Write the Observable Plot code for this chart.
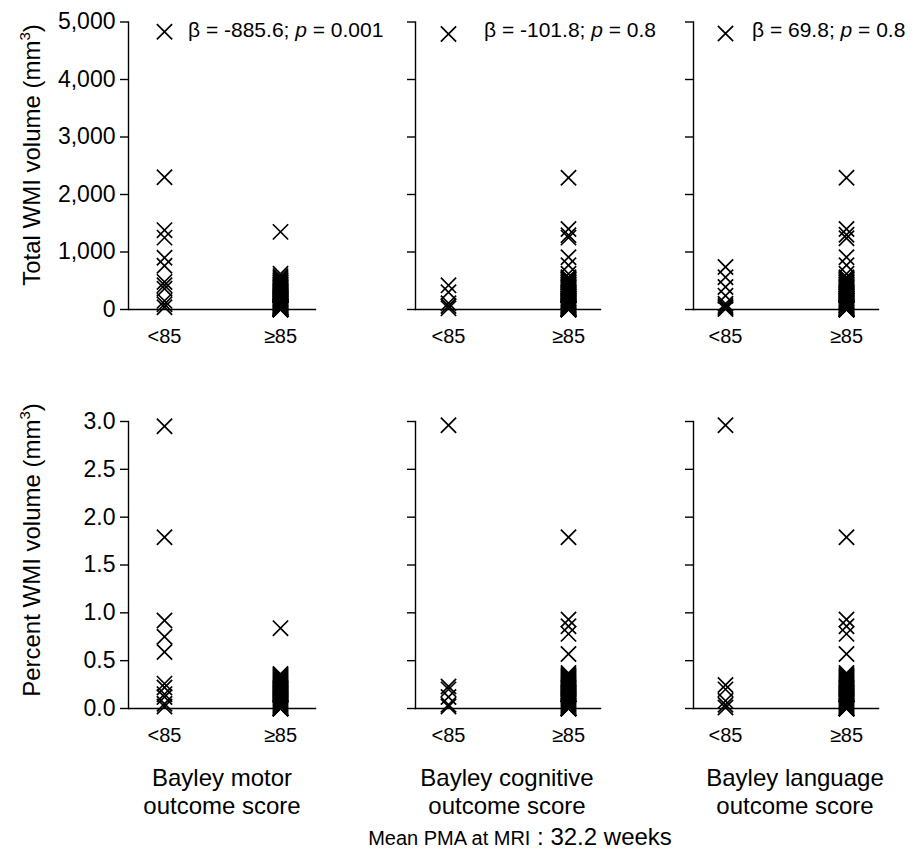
<!DOCTYPE html>
<html><head><meta charset="utf-8">
<script src="https://cdn.jsdelivr.net/npm/d3@7"></script>
<script src="https://cdn.jsdelivr.net/npm/@observablehq/plot@0.6"></script>
<style>
body{margin:0;background:#fff;}
#chart{position:relative;width:913px;height:849px;font-family:"Liberation Sans",Arial,sans-serif;color:#000;}
.panel{position:absolute;}
#overlay{position:absolute;left:0;top:0;pointer-events:none;}
</style></head><body><div id="chart"></div>
<script>
// ---- data ----
const groups = ["<85", "≥85"];
const outcomeLine1 = ["Bayley motor", "Bayley cognitive", "Bayley language"];
const outcomeLine2 = ["outcome score", "outcome score", "outcome score"];
const betas = ["-885.6", "-101.8", "69.8"];
const pvals = ["0.001", "0.8", "0.8"];
const rowTitles = ["Total WMI volume (mm", "Percent WMI volume (mm"];
const captionA = "Mean PMA at MRI";
const captionB = " : 32.2 weeks";
const totalTicks = [0, 1000, 2000, 3000, 4000, 5000];
const pctTicks = [0, 0.5, 1.0, 1.5, 2.0, 2.5, 3.0];

// Total WMI volume (mm3)
const motorTotalLo = [4830, 2300, 1380, 1250, 900, 760, 480, 420, 360, 150, 90, 40];
const motorTotalHi = [1350, 620, 580, 550, 530, 510, 490, 470, 460, 440, 430, 420, 400, 390, 380, 360, 350, 340, 320, 310, 300, 290, 280, 260, 250, 240, 230, 210, 200, 190, 180, 170, 160, 150, 140, 130, 120, 110, 100, 90, 80, 70, 60, 50, 45, 40, 30, 25, 20, 15, 10, 5, 0, 0, 0, 0, 0, 0];
const cogTotalLo = [4790, 420, 300, 110, 60, 20];
const cogTotalHi = [2290, 1400, 1290, 1250, 910, 770, 620, 560, 540, 520, 500, 480, 470, 460, 440, 430, 420, 400, 390, 380, 360, 350, 340, 320, 300, 290, 280, 260, 250, 240, 220, 200, 190, 180, 160, 150, 140, 130, 120, 100, 90, 80, 70, 60, 50, 40, 30, 20, 15, 10, 5, 0, 0, 0, 0, 0, 0];
const langTotalLo = [4800, 740, 560, 390, 240, 100, 60, 30, 10];
const langTotalHi = [2290, 1400, 1300, 1240, 910, 770, 620, 560, 540, 520, 500, 480, 470, 460, 440, 430, 420, 400, 390, 380, 360, 350, 340, 320, 300, 290, 280, 260, 250, 240, 220, 200, 190, 180, 160, 150, 140, 130, 120, 100, 90, 80, 70, 60, 50, 40, 30, 20, 15, 10, 5, 0, 0, 0, 0, 0, 0];

// Percent WMI volume
const motorPctLo = [2.95, 1.79, 0.92, 0.75, 0.59, 0.26, 0.22, 0.15, 0.12, 0.05, 0.02];
const motorPctHi = [0.84, 0.36, 0.35, 0.34, 0.33, 0.32, 0.31, 0.30, 0.29, 0.28, 0.27, 0.26, 0.25, 0.24, 0.23, 0.22, 0.21, 0.20, 0.19, 0.18, 0.17, 0.16, 0.15, 0.14, 0.13, 0.12, 0.11, 0.10, 0.09, 0.08, 0.07, 0.06, 0.05, 0.04, 0.03, 0.02, 0.01, 0, 0, 0, 0, 0, 0];
const cogPctLo = [2.96, 0.23, 0.20, 0.12, 0.04, 0.02];
const cogPctHi = [1.79, 0.93, 0.86, 0.78, 0.57, 0.37, 0.35, 0.34, 0.33, 0.32, 0.31, 0.30, 0.29, 0.28, 0.27, 0.26, 0.25, 0.24, 0.23, 0.22, 0.21, 0.20, 0.18, 0.17, 0.16, 0.15, 0.14, 0.13, 0.12, 0.11, 0.10, 0.09, 0.08, 0.07, 0.06, 0.05, 0.04, 0.03, 0.02, 0.01, 0, 0, 0, 0, 0, 0];
const langPctLo = [2.96, 0.245, 0.20, 0.08, 0.04, 0.01];
const langPctHi = [1.79, 0.93, 0.86, 0.78, 0.57, 0.37, 0.35, 0.34, 0.33, 0.32, 0.31, 0.30, 0.29, 0.28, 0.27, 0.26, 0.25, 0.24, 0.23, 0.22, 0.21, 0.20, 0.18, 0.17, 0.16, 0.15, 0.14, 0.13, 0.12, 0.11, 0.10, 0.09, 0.08, 0.07, 0.06, 0.05, 0.04, 0.03, 0.02, 0.01, 0, 0, 0, 0, 0, 0];

// ---- assemble ----
const toRows = (lo, hi) => [...lo.map(v => ({group: groups[0], value: v})), ...hi.map(v => ({group: groups[1], value: v}))];
const panels = [
  [toRows(motorTotalLo, motorTotalHi), toRows(cogTotalLo, cogTotalHi), toRows(langTotalLo, langTotalHi)],
  [toRows(motorPctLo, motorPctHi), toRows(cogPctLo, cogPctHi), toRows(langPctLo, langPctHi)]
];
const rowTicks = [totalTicks, pctTicks];
const rowFormat = [d3.format(","), d3.format(".1f")];

// ---- layout ----
const FONT = '"Liberation Sans", Arial, sans-serif';
const colLeft = [0, 330, 615], colWidth = [330, 285, 298];
const mLeft = [128, 85, 78], mRight = [15, 15, 35], xPad = [0.3, 0.27, 0.26];
const rowTop = [0, 400], H = 350, mTop = [21.5, 21], mBottom = [41, 42];

const chart = document.getElementById("chart");
for (let r = 0; r < 2; r++) {
  for (let c = 0; c < 3; c++) {
    const ticks = rowTicks[r];
    const plot = Plot.plot({
      width: colWidth[c], height: H,
      marginLeft: mLeft[c], marginRight: mRight[c], marginTop: mTop[r], marginBottom: mBottom[r],
      style: {fontFamily: FONT, fontSize: "20px", color: "#000", background: "transparent", overflow: "visible"},
      x: {type: "point", domain: groups, padding: xPad[c]},
      y: {domain: [ticks[0], ticks[ticks.length - 1]]},
      marks: [
        Plot.axisY({ticks, tickSize: 8, tickPadding: 5, strokeWidth: 1.4, label: null, fontSize: 23,
          tickFormat: c === 0 ? rowFormat[r] : () => ""}),
        Plot.axisX({tickSize: 0, tickPadding: 19, label: null, fontSize: 20}),
        Plot.frame({anchor: "left", strokeWidth: 1.4}),
        Plot.frame({anchor: "bottom", strokeWidth: 1.4}),
        Plot.dot(panels[r][c], {x: "group", y: "value", symbol: "times", r: 7, stroke: "#000", strokeWidth: 1.7})
      ]
    });
    plot.classList.add("panel");
    plot.style.left = colLeft[c] + "px";
    plot.style.top = rowTop[r] + "px";
    chart.appendChild(plot);
  }
}

// ---- overlay text ----
const svg = d3.select(chart).append("svg").attr("id", "overlay")
  .attr("width", 913).attr("height", 849)
  .style("font-family", FONT).attr("fill", "#000");

const titleY = [155, 550];
rowTitles.forEach((t, i) => {
  const tx = svg.append("text")
    .attr("transform", `translate(40,${titleY[i]}) rotate(-90)`)
    .attr("text-anchor", "middle").attr("font-size", 24);
  tx.append("tspan").text(t);
  tx.append("tspan").attr("font-size", 15).attr("dy", -10).text("3");
  tx.append("tspan").attr("dy", 10).text(")");
});

const betaX = [188, 484, 752];
betas.forEach((b, i) => {
  const tx = svg.append("text").attr("x", betaX[i]).attr("y", 36.5).attr("font-size", 21);
  tx.append("tspan").text(`β = ${b}; `);
  tx.append("tspan").attr("font-style", "italic").text("p");
  tx.append("tspan").text(` = ${pvals[i]}`);
});

const labX = [222, 507, 795];
outcomeLine1.forEach((t, i) => {
  svg.append("text").attr("x", labX[i]).attr("y", 786).attr("text-anchor", "middle").attr("font-size", 24).text(t);
  svg.append("text").attr("x", labX[i]).attr("y", 814).attr("text-anchor", "middle").attr("font-size", 24).text(outcomeLine2[i]);
});

const cap = svg.append("text").attr("x", 520).attr("y", 845).attr("text-anchor", "middle");
cap.append("tspan").attr("font-size", 20).text(captionA);
cap.append("tspan").attr("font-size", 24).text(captionB);
</script>
</body></html>
